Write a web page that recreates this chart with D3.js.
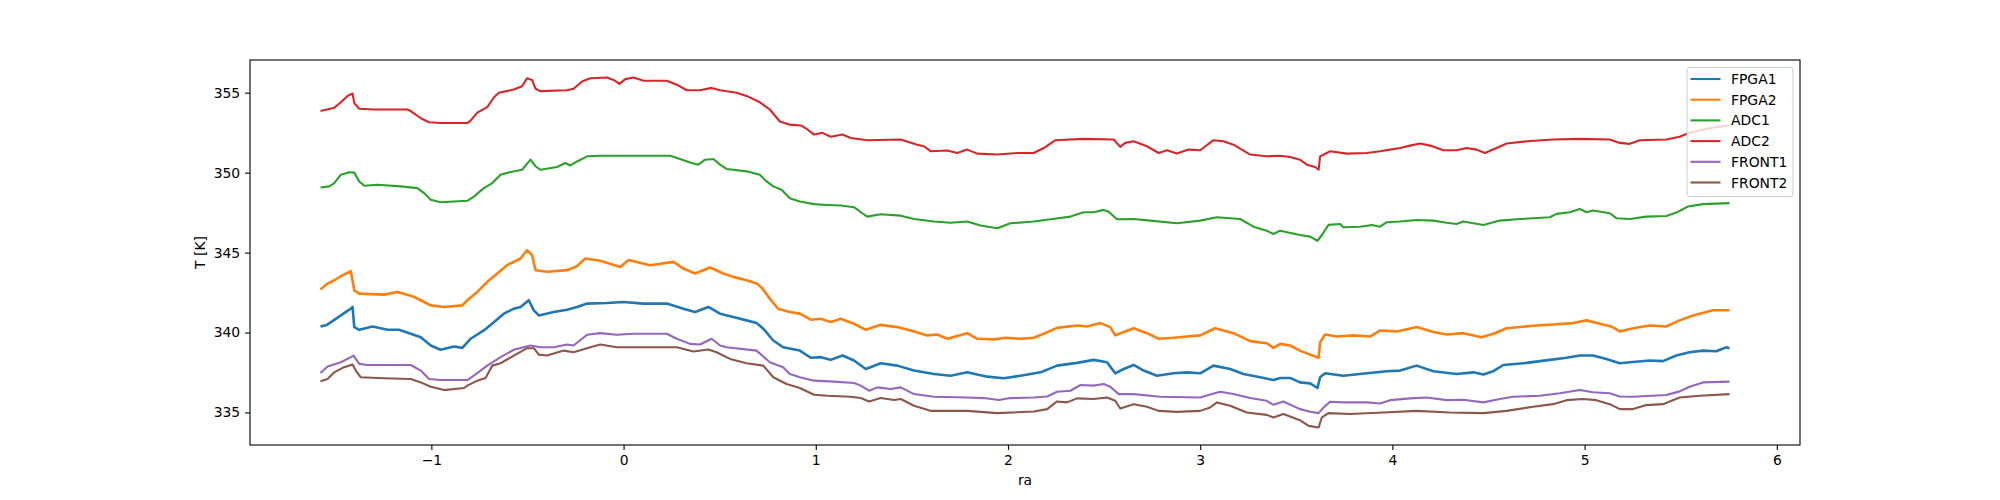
<!DOCTYPE html>
<html>
<head>
<meta charset="utf-8">
<script src="https://cdn.jsdelivr.net/npm/d3@7"></script>
<style>
  body { margin: 0; background: #fff; }
  svg text { font-family: "DejaVu Sans", sans-serif; fill: #000; }
  .tick text { font-size: 13.9px; }
  .axisText { font-size: 13.9px; }
</style>
</head>
<body>
<div id="chart"></div>
<script>
// values: [ra, T in K]
var seriesNames = ["FPGA1", "FPGA2", "ADC1", "ADC2", "FRONT1", "FRONT2"];
var seriesColors = ["#1f77b4", "#ff7f0e", "#2ca02c", "#d62728", "#9467bd", "#8c564b"];

var xTicks = [-1, 0, 1, 2, 3, 4, 5, 6];
var yTicks = [335, 340, 345, 350, 355];

var fpga1 = [[-1.577, 340.38], [-1.548, 340.45], [-1.522, 340.65], [-1.471, 341.07], [-1.419, 341.49], [-1.410, 341.6], [-1.401, 340.34], [-1.375, 340.17], [-1.306, 340.38], [-1.228, 340.17], [-1.168, 340.17], [-1.107, 339.92], [-1.055, 339.71], [-1.003, 339.19], [-0.952, 338.92], [-0.882, 339.13], [-0.839, 339.04], [-0.796, 339.61], [-0.727, 340.13], [-0.675, 340.65], [-0.623, 341.18], [-0.571, 341.49], [-0.536, 341.6], [-0.493, 342.02], [-0.467, 341.39], [-0.441, 341.07], [-0.363, 341.28], [-0.294, 341.43], [-0.242, 341.6], [-0.190, 341.81], [-0.087, 341.85], [0.0, 341.91], [0.104, 341.81], [0.225, 341.81], [0.311, 341.49], [0.372, 341.28], [0.441, 341.6], [0.502, 341.18], [0.571, 340.97], [0.640, 340.76], [0.692, 340.59], [0.727, 340.24], [0.779, 339.5], [0.830, 339.08], [0.917, 338.87], [0.974, 338.42], [1.026, 338.46], [1.078, 338.29], [1.139, 338.56], [1.199, 338.25], [1.260, 337.72], [1.338, 338.08], [1.424, 337.93], [1.511, 337.62], [1.615, 337.41], [1.701, 337.3], [1.788, 337.51], [1.892, 337.24], [1.978, 337.14], [2.065, 337.3], [2.169, 337.51], [2.255, 337.93], [2.359, 338.1], [2.446, 338.29], [2.515, 338.14], [2.558, 337.45], [2.602, 337.72], [2.654, 337.97], [2.706, 337.62], [2.775, 337.3], [2.862, 337.45], [2.931, 337.51], [3.000, 337.45], [3.069, 337.93], [3.156, 337.72], [3.225, 337.41], [3.312, 337.2], [3.381, 337.03], [3.416, 337.16], [3.468, 337.16], [3.519, 336.88], [3.572, 336.82], [3.610, 336.53], [3.624, 337.2], [3.650, 337.45], [3.745, 337.3], [3.867, 337.45], [3.971, 337.58], [4.040, 337.62], [4.126, 337.93], [4.213, 337.58], [4.334, 337.41], [4.421, 337.51], [4.473, 337.37], [4.525, 337.58], [4.577, 337.97], [4.698, 338.1], [4.819, 338.29], [4.906, 338.42], [4.975, 338.56], [5.044, 338.56], [5.113, 338.35], [5.183, 338.08], [5.235, 338.14], [5.339, 338.25], [5.408, 338.21], [5.477, 338.56], [5.546, 338.77], [5.616, 338.87], [5.685, 338.83], [5.737, 339.08], [5.754, 339.02]];

var fpga2 = [[-1.577, 342.69], [-1.540, 343.06], [-1.505, 343.27], [-1.471, 343.52], [-1.419, 343.84], [-1.401, 342.64], [-1.375, 342.43], [-1.246, 342.37], [-1.176, 342.54], [-1.090, 342.23], [-1.038, 341.91], [-1.003, 341.7], [-0.934, 341.6], [-0.839, 341.7], [-0.813, 342.02], [-0.761, 342.54], [-0.709, 343.17], [-0.657, 343.69], [-0.606, 344.21], [-0.536, 344.63], [-0.502, 345.15], [-0.476, 344.84], [-0.458, 343.9], [-0.398, 343.8], [-0.294, 343.9], [-0.242, 344.15], [-0.199, 344.63], [-0.121, 344.49], [-0.017, 344.1], [0.026, 344.53], [0.138, 344.21], [0.260, 344.42], [0.311, 344.0], [0.372, 343.69], [0.450, 344.07], [0.519, 343.69], [0.571, 343.48], [0.640, 343.27], [0.692, 343.06], [0.718, 342.81], [0.761, 342.12], [0.804, 341.49], [0.865, 341.28], [0.917, 341.18], [0.974, 340.8], [1.026, 340.86], [1.078, 340.65], [1.130, 340.86], [1.199, 340.55], [1.260, 340.17], [1.338, 340.48], [1.424, 340.34], [1.494, 340.13], [1.580, 339.82], [1.632, 339.88], [1.684, 339.61], [1.788, 339.96], [1.840, 339.61], [1.926, 339.57], [1.987, 339.67], [2.065, 339.61], [2.134, 339.67], [2.186, 339.92], [2.255, 340.29], [2.359, 340.44], [2.411, 340.38], [2.481, 340.59], [2.532, 340.34], [2.558, 339.82], [2.602, 340.03], [2.654, 340.27], [2.723, 339.96], [2.784, 339.61], [2.862, 339.67], [2.931, 339.75], [3.000, 339.82], [3.078, 340.27], [3.173, 339.96], [3.260, 339.46], [3.346, 339.33], [3.381, 339.04], [3.416, 339.29], [3.468, 339.19], [3.519, 338.87], [3.572, 338.62], [3.616, 338.42], [3.624, 339.4], [3.650, 339.88], [3.711, 339.75], [3.797, 339.82], [3.884, 339.75], [3.936, 340.13], [4.023, 340.07], [4.126, 340.34], [4.213, 340.03], [4.282, 339.88], [4.369, 339.96], [4.464, 339.71], [4.525, 339.92], [4.594, 340.27], [4.732, 340.42], [4.836, 340.5], [4.940, 340.59], [5.010, 340.76], [5.079, 340.55], [5.139, 340.38], [5.183, 340.07], [5.252, 340.27], [5.339, 340.44], [5.425, 340.38], [5.494, 340.76], [5.564, 341.07], [5.668, 341.39], [5.754, 341.39]];

var adc1 = [[-1.577, 349.07], [-1.531, 349.14], [-1.505, 349.35], [-1.471, 349.87], [-1.427, 350.02], [-1.401, 350.0], [-1.375, 349.45], [-1.349, 349.18], [-1.280, 349.24], [-1.159, 349.14], [-1.073, 349.03], [-1.038, 348.72], [-1.003, 348.3], [-0.952, 348.15], [-0.813, 348.24], [-0.779, 348.5], [-0.727, 349.03], [-0.683, 349.35], [-0.640, 349.87], [-0.588, 350.04], [-0.528, 350.18], [-0.484, 350.81], [-0.458, 350.4], [-0.433, 350.18], [-0.346, 350.35], [-0.303, 350.6], [-0.277, 350.45], [-0.242, 350.7], [-0.190, 351.02], [-0.121, 351.06], [0.242, 351.06], [0.294, 350.85], [0.346, 350.64], [0.389, 350.5], [0.424, 350.81], [0.467, 350.85], [0.502, 350.5], [0.536, 350.23], [0.640, 350.08], [0.709, 349.87], [0.744, 349.45], [0.779, 349.14], [0.822, 348.93], [0.865, 348.4], [0.917, 348.19], [0.991, 348.03], [1.061, 347.98], [1.130, 347.94], [1.199, 347.84], [1.242, 347.46], [1.268, 347.25], [1.338, 347.4], [1.442, 347.31], [1.511, 347.1], [1.615, 346.94], [1.701, 346.87], [1.788, 346.94], [1.857, 346.69], [1.944, 346.52], [2.013, 346.83], [2.134, 346.94], [2.221, 347.08], [2.325, 347.25], [2.394, 347.52], [2.446, 347.52], [2.498, 347.67], [2.524, 347.56], [2.567, 347.08], [2.654, 347.1], [2.740, 347.0], [2.879, 346.83], [3.000, 347.0], [3.087, 347.21], [3.208, 347.1], [3.277, 346.62], [3.346, 346.37], [3.381, 346.16], [3.416, 346.37], [3.519, 346.1], [3.572, 346.0], [3.610, 345.74], [3.633, 346.1], [3.668, 346.73], [3.728, 346.79], [3.745, 346.58], [3.832, 346.62], [3.893, 346.73], [3.936, 346.62], [3.971, 346.9], [4.040, 346.94], [4.126, 347.04], [4.213, 347.0], [4.282, 346.87], [4.334, 346.79], [4.369, 346.94], [4.473, 346.73], [4.559, 347.0], [4.646, 347.08], [4.732, 347.15], [4.819, 347.21], [4.854, 347.42], [4.923, 347.52], [4.975, 347.73], [5.010, 347.52], [5.044, 347.63], [5.131, 347.46], [5.165, 347.15], [5.235, 347.1], [5.321, 347.25], [5.425, 347.29], [5.477, 347.5], [5.538, 347.88], [5.616, 348.03], [5.754, 348.09]];

var adc2 = [[-1.577, 353.85], [-1.505, 354.06], [-1.471, 354.4], [-1.436, 354.8], [-1.410, 354.95], [-1.401, 354.35], [-1.375, 354.0], [-1.298, 353.95], [-1.125, 353.95], [-1.107, 353.85], [-1.055, 353.4], [-1.012, 353.15], [-0.952, 353.1], [-0.813, 353.1], [-0.796, 353.25], [-0.761, 353.75], [-0.709, 354.1], [-0.675, 354.7], [-0.649, 355.0], [-0.571, 355.2], [-0.528, 355.4], [-0.502, 355.9], [-0.476, 355.8], [-0.458, 355.25], [-0.433, 355.1], [-0.294, 355.15], [-0.260, 355.25], [-0.216, 355.7], [-0.173, 355.9], [-0.087, 355.95], [-0.052, 355.8], [-0.021, 355.55], [0.009, 355.85], [0.052, 355.95], [0.104, 355.75], [0.225, 355.75], [0.277, 355.5], [0.329, 355.15], [0.398, 355.15], [0.458, 355.3], [0.502, 355.15], [0.588, 355.0], [0.640, 354.8], [0.709, 354.4], [0.761, 353.95], [0.813, 353.2], [0.865, 353.0], [0.922, 352.95], [0.957, 352.7], [0.991, 352.38], [1.035, 352.49], [1.078, 352.24], [1.139, 352.38], [1.182, 352.17], [1.268, 352.03], [1.442, 352.07], [1.528, 351.75], [1.563, 351.65], [1.597, 351.34], [1.684, 351.38], [1.736, 351.23], [1.788, 351.44], [1.840, 351.19], [1.944, 351.13], [2.048, 351.23], [2.134, 351.23], [2.186, 351.54], [2.247, 352.03], [2.394, 352.11], [2.550, 352.07], [2.584, 351.61], [2.610, 351.86], [2.654, 351.96], [2.723, 351.65], [2.784, 351.23], [2.827, 351.4], [2.879, 351.19], [2.939, 351.44], [3.000, 351.4], [3.069, 352.03], [3.121, 351.96], [3.173, 351.75], [3.260, 351.13], [3.346, 351.02], [3.416, 351.06], [3.468, 350.98], [3.519, 350.81], [3.555, 350.5], [3.598, 350.35], [3.616, 350.18], [3.624, 351.02], [3.676, 351.34], [3.763, 351.19], [3.867, 351.23], [3.936, 351.34], [3.988, 351.44], [4.040, 351.54], [4.092, 351.69], [4.144, 351.82], [4.196, 351.69], [4.265, 351.4], [4.334, 351.4], [4.386, 351.54], [4.438, 351.44], [4.481, 351.23], [4.542, 351.54], [4.594, 351.82], [4.698, 351.96], [4.836, 352.07], [4.975, 352.11], [5.131, 352.07], [5.183, 351.86], [5.235, 351.8], [5.287, 352.03], [5.425, 352.07], [5.494, 352.24], [5.546, 352.49], [5.616, 352.7], [5.685, 352.86], [5.754, 352.95]];

var front1 = [[-1.577, 337.47], [-1.540, 337.87], [-1.471, 338.14], [-1.419, 338.46], [-1.405, 338.56], [-1.375, 338.04], [-1.332, 337.97], [-1.107, 337.97], [-1.055, 337.62], [-1.012, 337.09], [-0.952, 337.03], [-0.813, 337.03], [-0.779, 337.3], [-0.709, 337.93], [-0.640, 338.46], [-0.571, 338.92], [-0.484, 339.19], [-0.433, 339.08], [-0.363, 339.08], [-0.294, 339.25], [-0.260, 339.19], [-0.190, 339.86], [-0.121, 339.96], [-0.035, 339.86], [0.052, 339.92], [0.225, 339.92], [0.277, 339.61], [0.346, 339.29], [0.398, 339.25], [0.458, 339.61], [0.502, 339.19], [0.536, 339.08], [0.692, 338.87], [0.761, 338.14], [0.830, 337.83], [0.865, 337.41], [0.917, 337.2], [0.991, 336.99], [1.095, 336.93], [1.199, 336.84], [1.234, 336.68], [1.277, 336.36], [1.320, 336.57], [1.390, 336.47], [1.442, 336.57], [1.511, 336.15], [1.615, 335.98], [1.788, 335.94], [1.874, 335.9], [1.952, 335.78], [2.013, 335.9], [2.134, 335.94], [2.204, 336.0], [2.255, 336.3], [2.325, 336.36], [2.377, 336.72], [2.446, 336.68], [2.498, 336.78], [2.532, 336.61], [2.576, 336.15], [2.654, 336.15], [2.792, 335.98], [3.000, 335.94], [3.043, 336.09], [3.104, 336.3], [3.173, 336.15], [3.260, 335.9], [3.346, 335.73], [3.381, 335.48], [3.433, 335.69], [3.519, 335.21], [3.572, 335.04], [3.616, 334.96], [3.642, 335.31], [3.676, 335.67], [3.745, 335.63], [3.867, 335.63], [3.936, 335.56], [3.988, 335.77], [4.092, 335.88], [4.178, 335.94], [4.282, 335.77], [4.369, 335.8], [4.473, 335.63], [4.559, 335.84], [4.629, 335.98], [4.767, 336.05], [4.871, 336.2], [4.975, 336.41], [5.044, 336.26], [5.131, 336.2], [5.183, 336.0], [5.252, 335.98], [5.425, 336.09], [5.494, 336.32], [5.546, 336.61], [5.616, 336.88], [5.754, 336.93]];

var front2 = [[-1.577, 336.95], [-1.540, 337.09], [-1.505, 337.51], [-1.462, 337.79], [-1.410, 338.0], [-1.393, 337.62], [-1.367, 337.2], [-1.246, 337.14], [-1.107, 337.09], [-1.055, 336.88], [-1.003, 336.61], [-0.934, 336.4], [-0.830, 336.53], [-0.813, 336.68], [-0.761, 336.99], [-0.718, 337.16], [-0.683, 337.93], [-0.640, 338.08], [-0.571, 338.56], [-0.502, 339.02], [-0.467, 339.02], [-0.441, 338.62], [-0.398, 338.56], [-0.311, 338.87], [-0.260, 338.77], [-0.173, 339.08], [-0.121, 339.25], [-0.035, 339.08], [0.277, 339.08], [0.363, 338.81], [0.441, 338.94], [0.484, 338.77], [0.554, 338.35], [0.640, 338.08], [0.727, 337.93], [0.779, 337.2], [0.848, 336.78], [0.917, 336.53], [0.991, 336.11], [1.061, 336.05], [1.182, 335.98], [1.234, 335.9], [1.277, 335.69], [1.338, 335.9], [1.407, 335.78], [1.442, 335.84], [1.511, 335.42], [1.597, 335.1], [1.788, 335.1], [1.944, 334.96], [2.134, 335.06], [2.204, 335.21], [2.255, 335.69], [2.307, 335.63], [2.359, 335.88], [2.446, 335.84], [2.515, 335.94], [2.558, 335.73], [2.584, 335.25], [2.654, 335.52], [2.723, 335.36], [2.784, 335.1], [2.879, 335.04], [3.000, 335.1], [3.052, 335.31], [3.087, 335.63], [3.156, 335.42], [3.242, 335.0], [3.346, 334.85], [3.381, 334.69], [3.433, 334.9], [3.519, 334.52], [3.564, 334.16], [3.616, 334.06], [3.633, 334.69], [3.668, 334.96], [3.780, 334.9], [3.953, 335.0], [4.126, 335.1], [4.300, 335.0], [4.473, 334.96], [4.594, 335.1], [4.732, 335.36], [4.836, 335.52], [4.906, 335.77], [4.992, 335.84], [5.061, 335.77], [5.131, 335.52], [5.183, 335.21], [5.252, 335.21], [5.321, 335.46], [5.408, 335.52], [5.494, 335.94], [5.598, 336.05], [5.754, 336.15]];

var seriesData = [fpga1, fpga2, adc1, adc2, front1, front2];

var svgWidth = 2000;
var svgHeight = 500;

var chartMargin = {
  top: 60,
  right: 200,
  bottom: 55,
  left: 250
};

var chartWidth = svgWidth - chartMargin.left - chartMargin.right;
var chartHeight = svgHeight - chartMargin.top - chartMargin.bottom;

var svg = d3
  .select("#chart")
  .append("svg")
  .attr("height", svgHeight)
  .attr("width", svgWidth);

var chartGroup = svg.append("g")
  .attr("transform", `translate(${chartMargin.left}, ${chartMargin.top})`);

// matplotlib style 5% margins around the data
var allPoints = d3.merge(seriesData);
var xExt = d3.extent(allPoints, d => d[0]);
var yExt = d3.extent(allPoints, d => d[1]);
var xPad = (xExt[1] - xExt[0]) * 0.05;
var yPad = (yExt[1] - yExt[0]) * 0.05;

var xLinearScale = d3.scaleLinear()
  .domain([xExt[0] - xPad, xExt[1] + xPad])
  .range([0, chartWidth]);

var yLinearScale = d3.scaleLinear()
  .domain([yExt[0] - yPad, yExt[1] + yPad])
  .range([chartHeight, 0]);

var xAxis = d3.axisBottom(xLinearScale).tickValues(xTicks).tickSize(4.9).tickPadding(4.9);
var yAxis = d3.axisLeft(yLinearScale).tickValues(yTicks).tickSize(4.9).tickPadding(4.9);

var line = d3.line()
  .x(d => xLinearScale(d[0]))
  .y(d => yLinearScale(d[1]));

seriesData.forEach(function(series, i) {
  chartGroup.append("path")
    .datum(series)
    .attr("fill", "none")
    .attr("stroke", seriesColors[i])
    .attr("stroke-width", (i < 2) ? 2.6 : 2.1)
    .attr("stroke-linejoin", "round")
    .attr("d", line);
});

var gx = chartGroup.append("g")
  .attr("transform", `translate(0, ${chartHeight})`)
  .call(xAxis);

var gy = chartGroup.append("g")
  .call(yAxis);

[gx, gy].forEach(function(g) {
  g.select(".domain").remove();
  g.selectAll(".tick line").attr("stroke", "#000").attr("stroke-width", 1.1);
  g.selectAll(".tick text").attr("font-family", "DejaVu Sans").attr("font-size", 13.9);
});

// frame
chartGroup.append("rect")
  .attr("x", 0)
  .attr("y", 0)
  .attr("width", chartWidth)
  .attr("height", chartHeight)
  .attr("fill", "none")
  .attr("stroke", "#000")
  .attr("stroke-width", 1.1);

chartGroup.append("text")
  .attr("transform", "rotate(-90)")
  .attr("y", -45)
  .attr("x", 0 - (chartHeight / 2))
  .attr("text-anchor", "middle")
  .attr("class", "axisText")
  .text("T [K]");

chartGroup.append("text")
  .attr("x", chartWidth / 2)
  .attr("y", chartHeight + 40)
  .attr("text-anchor", "middle")
  .attr("class", "axisText")
  .text("ra");

// legend
var legend = chartGroup.append("g")
  .attr("transform", `translate(${chartWidth - 113}, 7.5)`);

legend.append("rect")
  .attr("width", 106)
  .attr("height", 129)
  .attr("rx", 3)
  .attr("fill", "#fff")
  .attr("fill-opacity", 0.8)
  .attr("stroke", "#ccc")
  .attr("stroke-width", 1);

seriesNames.forEach(function(name, i) {
  var yy = 11.5 + i * 20.7;
  legend.append("line")
    .attr("x1", 3.5)
    .attr("x2", 33.5)
    .attr("y1", yy)
    .attr("y2", yy)
    .attr("stroke", seriesColors[i])
    .attr("stroke-width", 2.1);
  legend.append("text")
    .attr("x", 44)
    .attr("y", yy)
    .attr("dy", "0.36em")
    .attr("class", "axisText")
    .text(name);
});
</script>
</body>
</html>
